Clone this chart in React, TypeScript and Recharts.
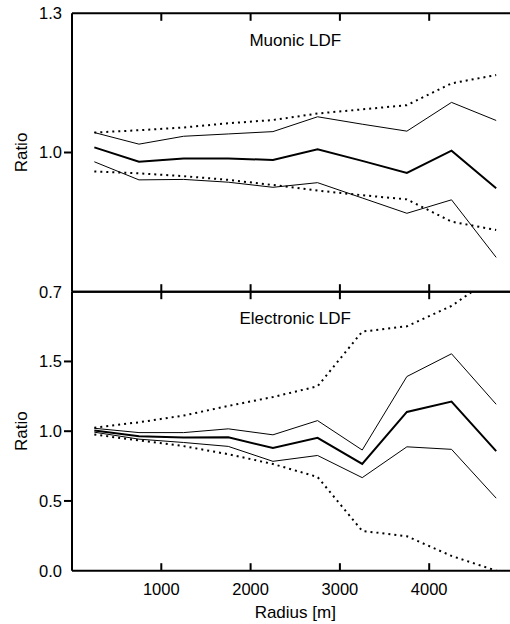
import React from 'react';
import { LineChart, Line, XAxis, YAxis } from 'recharts';

// Radius bin centres [m]
const radius = [250, 750, 1250, 1750, 2250, 2750, 3250, 3750, 4250, 4750];

// Muonic LDF ratio
const muonMedian = [1.011, 0.980, 0.987, 0.987, 0.984, 1.007, 0.982, 0.956, 1.004, 0.923];
const muonHigh1 = [1.043, 1.018, 1.035, 1.040, 1.045, 1.077, 1.061, 1.046, 1.108, 1.069];
const muonLow1 = [0.980, 0.941, 0.942, 0.936, 0.925, 0.935, 0.902, 0.869, 0.898, 0.774];
const muonHigh2 = [1.043, 1.048, 1.054, 1.063, 1.070, 1.084, 1.093, 1.102, 1.149, 1.167];
const muonLow2 = [0.959, 0.955, 0.949, 0.941, 0.930, 0.918, 0.908, 0.899, 0.851, 0.833];

// Electronic LDF ratio
const elecMedian = [1.005, 0.963, 0.954, 0.957, 0.879, 0.952, 0.765, 1.138, 1.213, 0.857];
const elecHigh1 = [1.021, 0.990, 0.990, 1.017, 0.974, 1.076, 0.865, 1.392, 1.555, 1.193];
const elecLow1 = [0.993, 0.943, 0.919, 0.891, 0.784, 0.826, 0.667, 0.888, 0.870, 0.520];
const elecHigh2 = [1.025, 1.064, 1.112, 1.181, 1.245, 1.322, 1.714, 1.752, 1.898, 2.12];
const elecLow2 = [0.976, 0.934, 0.893, 0.835, 0.765, 0.672, 0.285, 0.247, 0.106, 0.0];

const xTicks = [1000, 2000, 3000, 4000];
const muonTicks = [0.7, 1.0, 1.3];
const elecTicks = [0, 0.5, 1.0, 1.5];

const X_DOMAIN: [number, number] = [0, 5000];
const MUON_DOMAIN: [number, number] = [0.7, 1.3];
const ELEC_DOMAIN: [number, number] = [0, 2];

const FONT = '"Liberation Sans", Arial, Helvetica, sans-serif';

function build(med: number[], h1: number[], l1: number[], h2: number[], l2: number[]) {
  return radius.map((r, i) => ({ r, med: med[i], h1: h1[i], l1: l1[i], h2: h2[i], l2: l2[i] }));
}

const muonData = build(muonMedian, muonHigh1, muonLow1, muonHigh2, muonLow2);
const elecData = build(elecMedian, elecHigh1, elecLow1, elecHigh2, elecLow2);

const makeYTick = (ends: number[]) => (props: any) => {
  const x = Number(props.x);
  const y = Number(props.y);
  const v = Number(props.payload.value);
  const isEnd = ends.some((e) => Math.abs(e - v) < 1e-9);
  return (
    <g>
      {!isEnd && <path d={`M${x + 2},${y}H${x + 10}`} stroke="#000" strokeWidth={2} fill="none" />}
      <text x={x} y={y} dy="0.355em" textAnchor="end" fontSize={16.5} fill="#000">
        {v.toFixed(1)}
      </text>
    </g>
  );
};

const series = (xId: string) => [
  <Line key="h2" xAxisId={xId} dataKey="h2" stroke="#000" strokeWidth={2} strokeDasharray="2 4" dot={false} isAnimationActive={false} />,
  <Line key="l2" xAxisId={xId} dataKey="l2" stroke="#000" strokeWidth={2} strokeDasharray="2 4" dot={false} isAnimationActive={false} />,
  <Line key="h1" xAxisId={xId} dataKey="h1" stroke="#000" strokeWidth={1} dot={false} isAnimationActive={false} />,
  <Line key="l1" xAxisId={xId} dataKey="l1" stroke="#000" strokeWidth={1} dot={false} isAnimationActive={false} />,
  <Line key="med" xAxisId={xId} dataKey="med" stroke="#000" strokeWidth={2} dot={false} isAnimationActive={false} />,
];

const TICK_IN = -7.5;

export default function App() {
  return (
    <div
      style={{
        position: 'absolute',
        left: 0,
        top: 0,
        width: 510,
        height: 624,
        overflow: 'hidden',
        background: '#fff',
        fontFamily: FONT,
      }}
    >
      <div style={{ position: 'absolute', left: 0, top: 0 }}>
        <LineChart width={530} height={300} data={muonData} margin={{ top: 12.3, right: 11.5, bottom: 7.3, left: 12 }}>
          <XAxis
            xAxisId="b"
            dataKey="r"
            type="number"
            domain={X_DOMAIN}
            allowDataOverflow
            ticks={xTicks}
            interval={0}
            tickFormatter={() => ''}
            tickSize={TICK_IN}
            height={1}
            stroke="#000"
            strokeWidth={2}
            tickLine
          />
          <XAxis
            xAxisId="t"
            orientation="top"
            dataKey="r"
            type="number"
            domain={X_DOMAIN}
            ticks={xTicks}
            interval={0}
            tickFormatter={() => ''}
            tickSize={TICK_IN}
            height={1}
            stroke="#000"
            strokeWidth={2}
            tickLine
            label={{ value: 'Muonic LDF', position: 'bottom', offset: 20.6, fill: '#000', fontSize: 17 }}
          />
          <YAxis
            type="number"
            domain={MUON_DOMAIN}
            allowDataOverflow
            ticks={muonTicks}
            interval={0}
            width={60}
            tickSize={8}
            tickMargin={2}
            tickLine={false}
            stroke="#000"
            strokeWidth={2}
            tick={makeYTick([0.7, 1.3])}
            label={{ value: 'Ratio', angle: -90, position: 'insideLeft', offset: 8.7, fill: '#000', fontSize: 17, style: { textAnchor: 'middle' } }}
          />
          {series('b')}
        </LineChart>
      </div>
      <div style={{ position: 'absolute', left: 0, top: 280 }}>
        <LineChart width={530} height={344} data={elecData} margin={{ top: 10.7, right: 11.5, bottom: 0, left: 12 }}>
          <XAxis
            xAxisId="b"
            dataKey="r"
            type="number"
            domain={X_DOMAIN}
            allowDataOverflow
            ticks={xTicks}
            interval={0}
            tickSize={TICK_IN}
            tickMargin={12.3 - TICK_IN}
            height={53.3}
            stroke="#000"
            strokeWidth={2}
            tickLine
            tick={{ fill: '#000', fontSize: 16.5, stroke: 'none' }}
            label={{ value: 'Radius [m]', position: 'insideBottom', offset: 6, fill: '#000', fontSize: 17 }}
          />
          <XAxis
            xAxisId="t"
            orientation="top"
            dataKey="r"
            type="number"
            domain={X_DOMAIN}
            ticks={xTicks}
            interval={0}
            tickFormatter={() => ''}
            tickSize={TICK_IN}
            height={1}
            stroke="#000"
            strokeWidth={2}
            tickLine
            label={{ value: 'Electronic LDF', position: 'bottom', offset: 20.6, fill: '#000', fontSize: 17 }}
          />
          <YAxis
            type="number"
            domain={ELEC_DOMAIN}
            allowDataOverflow
            ticks={elecTicks}
            interval={0}
            width={60}
            tickSize={8}
            tickMargin={2}
            tickLine={false}
            stroke="#000"
            strokeWidth={2}
            tick={makeYTick([0])}
            label={{ value: 'Ratio', angle: -90, position: 'insideLeft', offset: 8.7, fill: '#000', fontSize: 17, style: { textAnchor: 'middle' } }}
          />
          {series('b')}
        </LineChart>
      </div>
    </div>
  );
}
